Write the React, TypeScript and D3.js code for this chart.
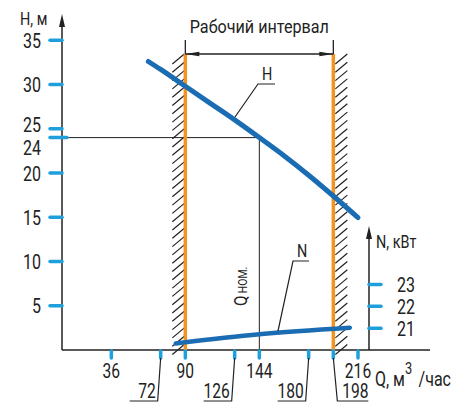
import React from "react";
import * as d3 from "d3";

// H(Q) curve, m
const flowH = [63, 72, 90, 108, 126, 144, 162, 180, 198, 216];
const head = [32.6, 31.7, 29.8, 27.9, 26.0, 24.0, 21.95, 19.75, 17.4, 14.95];

// N(Q) curve, kW
const flowN = [83, 144, 210];
const power = [20.3, 20.72, 21.02];

const hTicks = [5, 10, 15, 20, 24, 25, 30, 35];
const nTicks = [21, 22, 23];
const qTicksTop = [36, 90, 144, 216];
const qTicksBottom = [72, 126, 180];
const qTickRight = 198;
const workRange = [90, 198];
const qNom = 144;
const hNom = 24;

const W = 468;
const H = 403;
const FONT = "Roboto, 'Liberation Sans', sans-serif";
const tickBlue = "#1fa0dc";
const curveBlue = "#1a6cb3";
const orange = "#f39321";
const ink = "#222";

function T({ x, y, size = 20, anchor = "start", sx = 0.8, children }: any) {
  return (
    <text
      transform={`translate(${x},${y}) scale(${sx},1)`}
      textAnchor={anchor}
      fontSize={size}
      fontFamily={FONT}
      fill={ink}
    >
      {children}
    </text>
  );
}

export default function App() {
  const x = d3.scaleLinear().domain([0, 216]).range([62, 358]);
  const yH = d3.scaleLinear().domain([0, 35]).range([350, 40.25]);
  const yN = d3.scaleLinear().domain([20, 23]).range([350, 284.5]);

  const x0 = x(0);
  const y0 = yH(0);

  const hLine = d3
    .line<number>()
    .x((d, i) => x(flowH[i]))
    .y((d) => yH(d))
    .curve(d3.curveMonotoneX);
  const nLine = d3
    .line<number>()
    .x((d, i) => x(flowN[i]))
    .y((d) => yN(d))
    .curve(d3.curveMonotoneX);

  const xL = x(workRange[0]);
  const xR = x(workRange[1]);
  const dimY = 54;
  const hatchStep = 8.3;
  const hatchRows = d3.range(dimY, y0 - 4, hatchStep);

  const hLabelNudge: Record<number, number> = { 25: -4, 24: 10 };
  const nAxisX = 369;

  return (
    <svg width={W} height={H} style={{ position: "absolute", left: 0, top: 0 }}>
      <rect width={W} height={H} fill="#fff" />

      {/* hatching */}
      {hatchRows.map((y, i) => (
        <g key={i} stroke={ink} strokeWidth={1.2}>
          <line x1={xL - 13} y1={y + 10} x2={xL - 1} y2={y} />
          <line x1={xR + 2} y1={y + 10} x2={xR + 14} y2={y} />
        </g>
      ))}

      {/* nominal point lines */}
      <line x1={x0} x2={x(qNom)} y1={yH(hNom)} y2={yH(hNom)} stroke={ink} strokeWidth={1} />
      <line x1={x(qNom)} x2={x(qNom)} y1={yH(hNom)} y2={y0} stroke={ink} strokeWidth={1} />

      {/* axes */}
      <line x1={x0} x2={x0} y1={y0} y2={22} stroke={ink} strokeWidth={1.5} />
      <path d={`M${x0},14 L${x0 - 3},27 L${x0 + 3},27 Z`} fill={ink} />
      <line x1={x0} x2={430} y1={y0} y2={y0} stroke={ink} strokeWidth={1.5} />
      <line x1={nAxisX} x2={nAxisX} y1={y0} y2={234} stroke={ink} strokeWidth={1.5} />
      <path d={`M${nAxisX},226 L${nAxisX - 3},239 L${nAxisX + 3},239 Z`} fill={ink} />

      {/* working range */}
      {[xL, xR].map((xv, i) => (
        <g key={i}>
          <line x1={xv} x2={xv} y1={40} y2={dimY + 2} stroke={ink} strokeWidth={1.3} />
          <line x1={xv} x2={xv} y1={dimY} y2={y0} stroke={orange} strokeWidth={3.5} />
        </g>
      ))}
      <line x1={xL} x2={xR} y1={dimY} y2={dimY} stroke={ink} strokeWidth={1.3} />
      <path d={`M${xL},${dimY} L${xL + 14},${dimY - 2.2} L${xL + 14},${dimY + 2.2} Z`} fill={ink} />
      <path d={`M${xR},${dimY} L${xR - 14},${dimY - 2.2} L${xR - 14},${dimY + 2.2} Z`} fill={ink} />
      <T x={(xL + xR) / 2} y={33} size={19} anchor="middle" sx={0.85}>
        Рабочий интервал
      </T>

      {/* H ticks */}
      {hTicks.map((t) => (
        <g key={t}>
          <line
            x1={x0 - 12}
            x2={t === hNom ? x0 + 5 : x0}
            y1={yH(t)}
            y2={yH(t)}
            stroke={tickBlue}
            strokeWidth={3.5}
            strokeLinecap="round"
          />
          <T x={41} y={yH(t) + 7.5 + (hLabelNudge[t] || 0)} anchor="end">
            {t}
          </T>
        </g>
      ))}
      <T x={20} y={25} size={18}>
        H, м
      </T>

      {/* N ticks */}
      {nTicks.map((t) => (
        <g key={t}>
          <line x1={nAxisX} x2={nAxisX + 12} y1={yN(t)} y2={yN(t)} stroke={tickBlue} strokeWidth={3.5} strokeLinecap="round" />
          <T x={397} y={yN(t) + 7.5}>
            {t}
          </T>
        </g>
      ))}
      <T x={376} y={248} size={18}>
        N, кВт
      </T>

      {/* Q ticks */}
      {[...qTicksTop, ...qTicksBottom, qTickRight].map((t) => (
        <line key={t} x1={x(t)} x2={x(t)} y1={y0 + 1} y2={y0 + 8} stroke={tickBlue} strokeWidth={3.5} strokeLinecap="round" />
      ))}
      {qTicksTop.map((t) => (
        <T key={t} x={x(t)} y={378} anchor="middle" size={19.5}>
          {t}
        </T>
      ))}
      {qTicksBottom.map((t) => (
        <g key={t}>
          <T x={x(t) - 5} y={398} anchor="end" size={19.5}>
            {t}
          </T>
          <polyline
            points={`${x(t) - 31},401 ${x(t) - 3},401 ${x(t)},${y0 + 8}`}
            fill="none"
            stroke={ink}
            strokeWidth={1.2}
          />
        </g>
      ))}
      <T x={x(qTickRight) + 9} y={398} size={19.5}>
        {qTickRight}
      </T>
      <polyline
        points={`${x(qTickRight)},${y0 + 8} ${x(qTickRight) + 4},401 ${x(qTickRight) + 35},401`}
        fill="none"
        stroke={ink}
        strokeWidth={1.2}
      />
      <text transform="translate(375,386) scale(0.8,1)" fontSize={20} fontFamily={FONT} fill={ink}>
        Q, м
        <tspan dy={-12} fontSize={16}>3</tspan>
        <tspan dy={12} dx={8}>/час</tspan>
      </text>

      {/* Q nom label */}
      <text transform={`translate(${x(qNom) - 12.5},306) rotate(-90) scale(0.8,1)`} fontFamily={FONT} fill={ink} fontSize={19}>
        Q<tspan fontSize={13} dx={3}>НОМ.</tspan>
      </text>

      {/* curves */}
      <path d={hLine(head) || ""} fill="none" stroke={curveBlue} strokeWidth={5} strokeLinecap="round" />
      <path d={nLine(power) || ""} fill="none" stroke={curveBlue} strokeWidth={4.5} strokeLinecap="round" />

      {/* curve callouts */}
      <polyline points="235,117 258,84 275,84" fill="none" stroke={ink} strokeWidth={1.2} />
      <T x={262} y={80} size={18}>
        H
      </T>
      <polyline points="278,331 293,261 309,261" fill="none" stroke={ink} strokeWidth={1.2} />
      <T x={297} y={257} size={18}>
        N
      </T>
    </svg>
  );
}
